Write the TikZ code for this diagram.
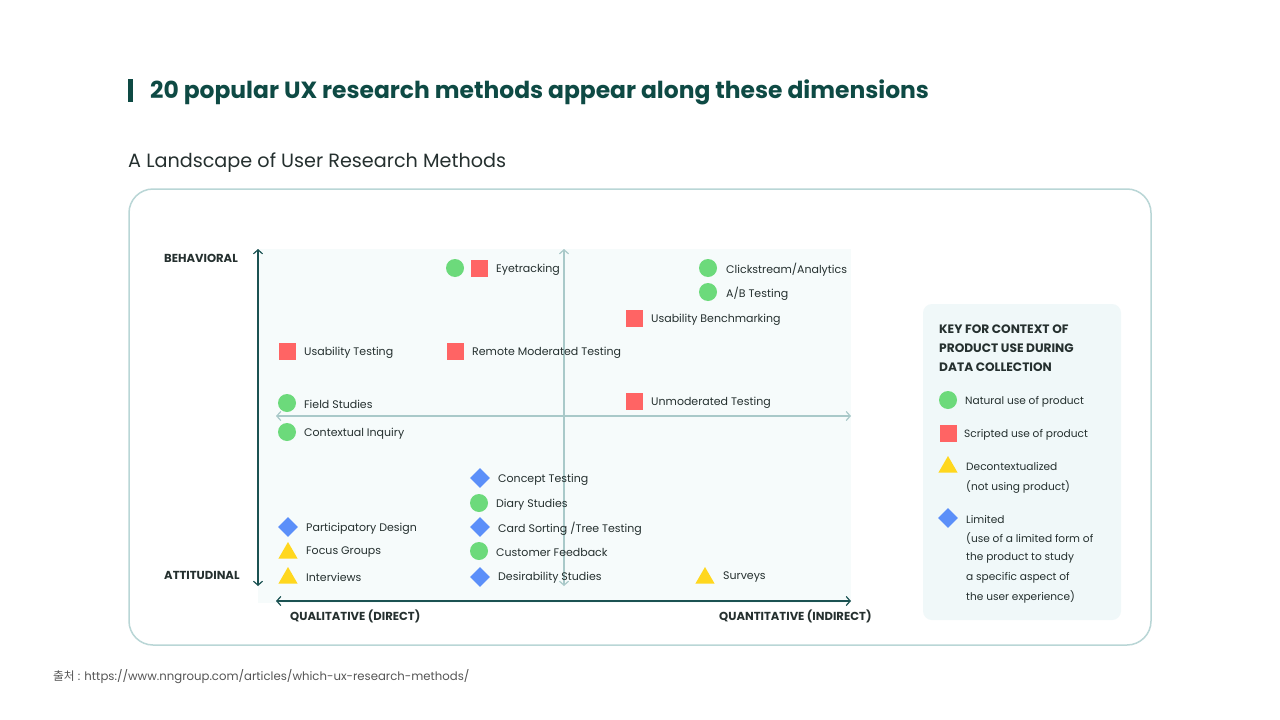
\documentclass[tikz,border=0pt]{standalone}
\usepackage{fontspec}
\setmainfont{Poppins}
\newfontfamily\cjkfont{Noto Sans CJK KR}
\usetikzlibrary{shapes.geometric,arrows.meta}
\definecolor{titleteal}{HTML}{0E4A44}
\definecolor{darktext}{HTML}{25302F}
\definecolor{boxline}{HTML}{B9D6D6}
\definecolor{plotbg}{HTML}{F6FBFB}
\definecolor{keybg}{HTML}{F0F8F9}
\definecolor{axisdark}{HTML}{1B5252}
\definecolor{axislight}{HTML}{A9C9C9}
\definecolor{mgreen}{HTML}{6CDA7B}
\definecolor{mred}{HTML}{FF6464}
\definecolor{myellow}{HTML}{FFD71E}
\definecolor{mblue}{HTML}{5B8FF9}
\definecolor{srcgray}{HTML}{555555}
\tikzset{
  lbl/.style={anchor=west,inner sep=0pt,yshift=-1.5pt,text=darktext,font=\fontsize{11}{13}\selectfont},
  keylbl/.style={anchor=west,inner sep=0pt,yshift=-1.5pt,text=darktext,font=\fontsize{10.6}{12}\selectfont},
  axlbl/.style={anchor=west,inner sep=0pt,yshift=-0.5pt,text=darktext,font=\fontsize{11.6}{13}\selectfont\bfseries},
  keyhead/.style={anchor=west,inner sep=0pt,yshift=-0.5pt,text=darktext,font=\fontsize{12.2}{14}\selectfont\bfseries},
  circ/.style={circle,fill=mgreen,inner sep=0pt,minimum size=18pt},
  sq/.style={rectangle,fill=mred,inner sep=0pt,minimum size=17pt},
  dia/.style={diamond,fill=mblue,inner sep=0pt,minimum size=20pt},
  tri/.style={regular polygon,regular polygon sides=3,fill=myellow,inner sep=0pt,minimum size=22pt},
  darkax/.style={draw=axisdark,line width=1.2pt,{Straight Barb[length=4pt,width=9pt]}-{Straight Barb[length=4pt,width=9pt]}},
  lightax/.style={draw=axislight,line width=1.2pt,{Straight Barb[length=4pt,width=9pt]}-{Straight Barb[length=4pt,width=9pt]}},
}
\begin{document}
\begin{tikzpicture}[x=1pt,y=-1pt]
\useasboundingbox[fill=white] (0,0) rectangle (1280,720);
% title
\fill[titleteal] (128,79) rectangle (133,102);
\node[anchor=west,inner sep=0pt,text=titleteal,font=\fontsize{23.4}{26}\selectfont\bfseries] (title) at (150,92) {20 popular UX research methods appear along these dimensions};
\node[anchor=west,inner sep=0pt,text=darktext,font=\fontsize{19.2}{22}\selectfont] (subtitle) at (128,163) {A Landscape of User Research Methods};
% frame
\draw[boxline,line width=1.5pt,fill=white,rounded corners=24pt] (129,189) rectangle (1151,645);
\fill[plotbg] (258,249) rectangle (851,603);
% axes coordinates
\coordinate (vtop) at (258,249);
\coordinate (vbot) at (258,586);
\coordinate (hleft) at (276,601);
\coordinate (hright) at (851,601);
\coordinate (ctop) at (564,249);
\coordinate (cbot) at (564,586);
\coordinate (cleft) at (276,416);
\coordinate (cright) at (851,416);
\draw[lightax] (ctop) -- (cbot);
\draw[lightax] (cleft) -- (cright);
\draw[darkax] (vtop) -- (vbot);
\draw[darkax] (hleft) -- (hright);
\node[axlbl] (beh) at (164,258) {BEHAVIORAL};
\node[axlbl] (att) at (164,575) {ATTITUDINAL};
\node[axlbl] (qual) at (290,616) {QUALITATIVE (DIRECT)};
\node[axlbl] (quan) at (719,616) {QUANTITATIVE (INDIRECT)};
% markers and labels
\node[circ] (m1a) at (455,268) {};
\node[sq] (m1b) at (479,268) {};
\node[lbl] (t1) at (496,268) {Eyetracking};
\node[circ] (m2) at (708,268) {};
\node[lbl] (t2) at (726,268) {Clickstream/Analytics};
\node[circ] (m3) at (708,292) {};
\node[lbl] (t3) at (726,292) {A/B Testing};
\node[sq] (m4) at (634,318) {};
\node[lbl] (t4) at (651,318) {Usability Benchmarking};
\node[sq] (m5) at (287,351) {};
\node[lbl] (t5) at (304,351) {Usability Testing};
\node[sq] (m6) at (455,351) {};
\node[lbl] (t6) at (472,351) {Remote Moderated Testing};
\node[circ] (m7) at (287,403) {};
\node[lbl] (t7) at (304,403) {Field Studies};
\node[sq] (m8) at (634,401) {};
\node[lbl] (t8) at (651,401) {Unmoderated Testing};
\node[circ] (m9) at (287,432) {};
\node[lbl] (t9) at (304,432) {Contextual Inquiry};
\node[dia] (m10) at (480,478) {};
\node[lbl] (t10) at (498,478) {Concept Testing};
\node[circ] (m11) at (479,503) {};
\node[lbl] (t11) at (496,503) {Diary Studies};
\node[dia] (m12) at (288,527) {};
\node[lbl] (t12) at (306,527) {Participatory Design};
\node[dia] (m13) at (480,527) {};
\node[lbl] (t13) at (498,527) {Card Sorting /Tree Testing};
\node[tri] (m14) at (288,553) {};
\node[lbl] (t14) at (306,551) {Focus Groups};
\node[circ] (m15) at (479,551) {};
\node[lbl] (t15) at (496,551) {Customer Feedback};
\node[tri] (m16) at (288,578) {};
\node[lbl] (t16) at (306,576) {Interviews};
\node[dia] (m17) at (480,577) {};
\node[lbl] (t17) at (498,576) {Desirability Studies};
\node[tri] (m18) at (705,578) {};
\node[lbl] (t18) at (723,576) {Surveys};
% key
\fill[keybg,rounded corners=9pt] (923,304) rectangle (1121,620);
\node[keyhead] (k0a) at (939,329) {KEY FOR CONTEXT OF};
\node[keyhead] (k0b) at (939,348) {PRODUCT USE DURING};
\node[keyhead] (k0c) at (939,367) {DATA COLLECTION};
\node[circ] (k1) at (948,400) {};
\node[keylbl] (kt1) at (965,400) {Natural use of product};
\node[sq] (k2) at (948,433) {};
\node[keylbl] (kt2) at (964,433) {Scripted use of product};
\node[tri] (k3) at (948,467) {};
\node[keylbl] (kt3a) at (966,465) {Decontextualized};
\node[keylbl] (kt3b) at (966,485) {(not using product)};
\node[dia] (k4) at (948,518) {};
\node[keylbl] (kt4a) at (966,518) {Limited};
\node[keylbl] (kt4b) at (966,537) {(use of a limited form of};
\node[keylbl] (kt4c) at (966,556) {the product to study};
\node[keylbl] (kt4d) at (966,576) {a specific aspect of};
\node[keylbl] (kt4e) at (966,595) {the user experience)};
% source
\node[anchor=west,inner sep=0pt,text=srcgray,font=\fontsize{11.7}{14}\selectfont] (src) at (53,677) {{\cjkfont 출처} : https://www.nngroup.com/articles/which-ux-research-methods/};
\end{tikzpicture}
\end{document}
